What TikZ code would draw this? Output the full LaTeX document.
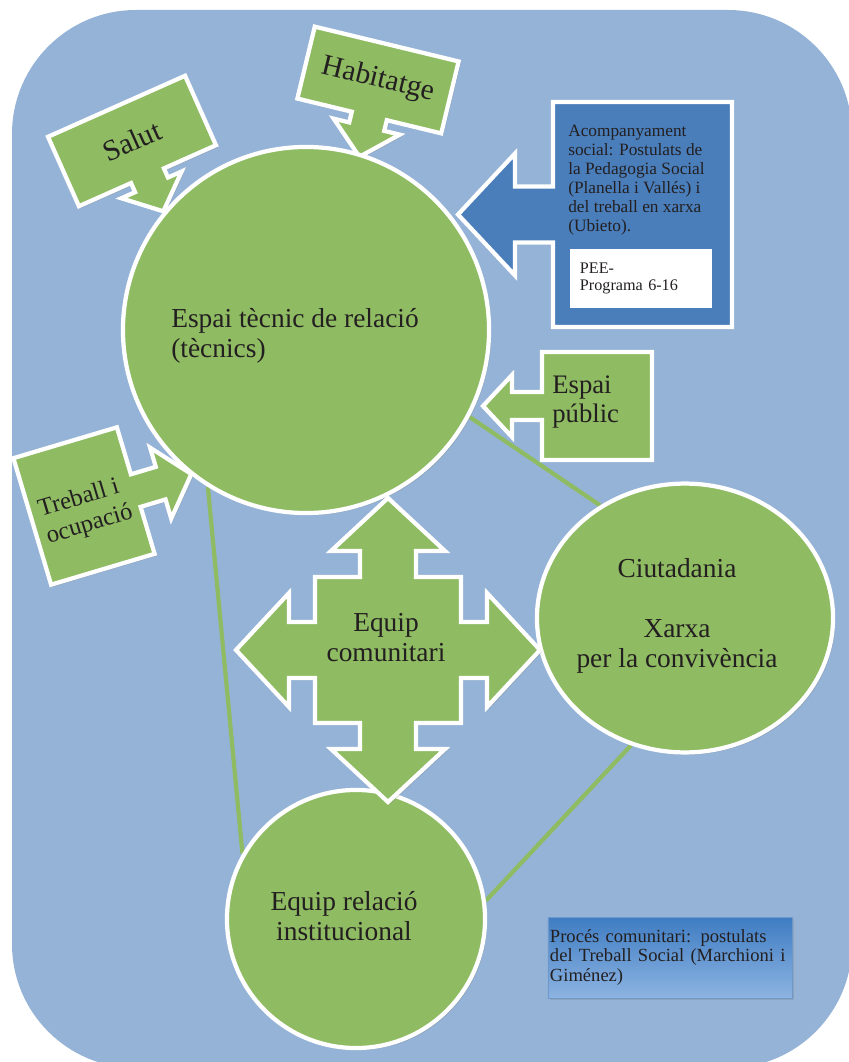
\documentclass[tikz,border=0pt]{standalone}
\usepackage{fontspec}
\setmainfont{Liberation Serif}
\usetikzlibrary{shapes.geometric,shadows}

\definecolor{fons}{RGB}{149,179,215}
\definecolor{verd}{RGB}{143,187,99}
\definecolor{blau}{RGB}{74,126,187}
\definecolor{lletrac}{RGB}{35,31,32}
\definecolor{blaudalt}{RGB}{62,124,194}
\definecolor{blaubaix}{RGB}{141,180,226}

\pgfdeclarelayer{back}
\pgfdeclarelayer{lines}
\pgfsetlayers{back,lines,main}

\tikzset{
  ombra/.style={drop shadow={opacity=0.3,shadow xshift=1.5pt,shadow yshift=-1.5pt}},
  forma/.style={fill=verd,draw=white,line width=3pt,line join=miter,ombra},
  cercle/.style={circle,fill=verd,draw=white,line width=3pt,inner sep=0pt,ombra},
  enllac/.style={draw=verd,line width=3pt},
  lletra/.style={font=\fontsize{19.5}{21.3}\selectfont,text=lletrac,inner sep=0pt},
  petita/.style={font=\fontsize{12.3}{13.5}\selectfont,text=lletrac,inner sep=0pt,align=left}
}

\begin{document}
\begin{tikzpicture}[x=0.025cm,y=-0.025cm]
  \useasboundingbox (0,0) rectangle (848,1062);
  \begin{pgfonlayer}{back}
    \fill[fons,rounded corners=3.1cm] (12,10) rectangle (852,1068);
  \end{pgfonlayer}

  % callouts
  \begin{scope}[shift={(132,141)},rotate=24,transform shape]
    \draw[forma] (-75,-38) -- (75,-38) -- (75,38) -- (18,38) -- (18,48) -- (33,48) -- (0,77)
      -- (-33,48) -- (-18,48) -- (-18,38) -- (-75,38) -- cycle;
    \node[lletra,font=\fontsize{21}{23}\selectfont] (salut) at (0,0) {Salut};
  \end{scope}
  \begin{scope}[shift={(378,80)},rotate=-13.6,transform shape]
    \draw[forma] (-74,-37) -- (74,-37) -- (74,37) -- (18,37) -- (18,48) -- (34,48) -- (0,79)
      -- (-34,48) -- (-18,48) -- (-18,37) -- (-74,37) -- cycle;
    \node[lletra,font=\fontsize{21}{23}\selectfont] (habitatge) at (0,0) {Habitatge};
  \end{scope}
  \begin{scope}[shift={(84,506)},rotate=16.6,transform shape]
    \draw[forma] (-54,-66) -- (54,-66) -- (54,-17) -- (80,-17) -- (80,-37) -- (112,0)
      -- (80,37) -- (80,17) -- (54,17) -- (54,66) -- (-54,66) -- cycle;
    \node[lletra,font=\fontsize{17.5}{20}\selectfont,align=left] (treball) at (0,6) {Treball i\\ocupació};
  \end{scope}
  \begin{scope}[shift={(597,406)}]
    \draw[forma] (-55,-54) -- (55,-54) -- (55,54) -- (-55,54) -- (-55,14) -- (-85,14)
      -- (-85,31) -- (-114,0) -- (-85,-31) -- (-85,-14) -- (-55,-14) -- cycle;
  \end{scope}
  \node[lletra,font=\fontsize{19}{21}\selectfont,align=left,anchor=west] (espai) at (552,402) {Espai\\públic};

  % circles
  \node[cercle,minimum size=9.15cm] (tecnic) at (306,330) {};
  \node[cercle,ellipse,minimum width=7.4cm,minimum height=6.72cm] (ciutadania) at (685,618) {};
  \node[cercle,minimum size=6.45cm] (institucional) at (356,919) {};

  \begin{pgfonlayer}{lines}
    \draw[enllac] (tecnic.238) -- (institucional.150);
    \draw[enllac] (tecnic.-28) -- (ciutadania.127);
    \draw[enllac] (ciutadania.247) -- (institucional.8);
  \end{pgfonlayer}

  \node[lletra,align=left] (tecnicTxt) at (295,336) {Espai tècnic de relació\\(tècnics)};
  \node[lletra,align=center] (ciutadaniaTxt) at (677,616) {Ciutadania\\[21pt]Xarxa\\per la convivència};
  \node[lletra,align=center] (institucionalTxt) at (344,916) {Equip relació\\institucional};

  % equip comunitari
  \begin{scope}[shift={(388,650)}]
    \draw[forma] (0,-152) -- (57,-99) -- (28,-99) -- (28,-73) -- (73,-73) -- (73,-28) -- (99,-28)
      -- (99,-57) -- (152,0) -- (99,57) -- (99,28) -- (73,28) -- (73,73) -- (28,73) -- (28,99)
      -- (57,99) -- (0,152) -- (-57,99) -- (-28,99) -- (-28,73) -- (-73,73) -- (-73,28)
      -- (-99,28) -- (-99,57) -- (-152,0) -- (-99,-57) -- (-99,-28) -- (-73,-28) -- (-73,-73)
      -- (-28,-73) -- (-28,-99) -- (-57,-99) -- cycle;
  \end{scope}
  \node[lletra,align=center] (comunitari) at (386,638) {Equip\\comunitari};

  % blue callout
  \begin{scope}[shift={(642.5,214.5)}]
    \draw[forma,fill=blau] (-89.5,-112.5) -- (89.5,-112.5) -- (89.5,112.5) -- (-89.5,112.5)
      -- (-89.5,28) -- (-127.5,28) -- (-127.5,61) -- (-184.5,0) -- (-127.5,-61)
      -- (-127.5,-28) -- (-89.5,-28) -- cycle;
  \end{scope}
  \node[petita,anchor=west] (acompanyament) at (568,180.5) {Acompanyament\\social: Postulats de\\la Pedagogia Social\\(Planella i Vallés) i\\del treball en xarxa\\(Ubieto).};
  \node[fill=white,minimum width=3.55cm,minimum height=1.475cm,text width=3.05cm,inner xsep=0.25cm,
    align=left,font=\fontsize{11.5}{12}\selectfont,text=lletrac] (pee) at (641,278.5) {PEE-\\Programa 6-16};

  \node[top color=blaudalt,bottom color=blaubaix,draw=blau!80,ombra,minimum width=6.1cm,minimum height=2.025cm,
    text width=6cm,inner xsep=0.05cm,align=left,font=\fontsize{13.2}{14.2}\selectfont,text=lletrac]
    (proces) at (670,957.5) {Procés comunitari: postulats\\del Treball Social (Marchioni i\\Giménez)};
\end{tikzpicture}
\end{document}
